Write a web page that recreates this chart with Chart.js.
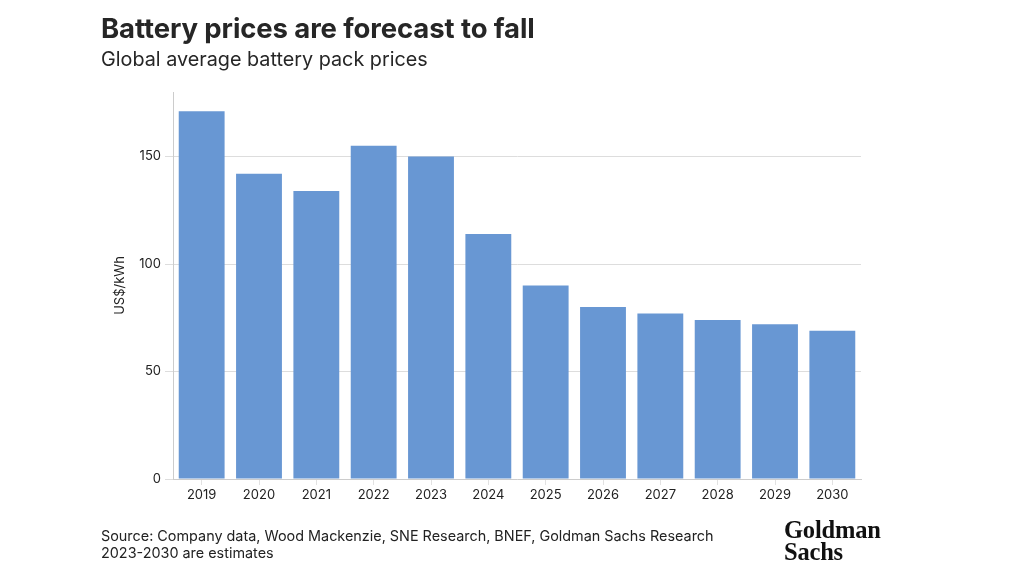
<!DOCTYPE html>
<html><head><meta charset="utf-8">
<script src="https://cdn.jsdelivr.net/npm/chart.js@4/dist/chart.umd.min.js"></script>
<style>
html,body{margin:0;padding:0;background:#fff;width:1014px;height:578px;overflow:hidden;font-family:Inter,"Noto Sans",sans-serif;color:#222;}
#c{position:absolute;left:0;top:0;}
.t{position:absolute;left:101px;top:11px;font-size:27.5px;font-weight:700;letter-spacing:-0.1px;color:#262626;}
.s{position:absolute;left:101px;top:47px;font-size:19.8px;color:#262626;}
.f{position:absolute;left:101px;top:527px;font-size:14.4px;line-height:17px;color:#222;}
.logo{position:absolute;left:784px;top:519px;font-family:"Liberation Serif","DejaVu Serif",serif;font-weight:700;font-size:25px;line-height:22px;color:#111;transform:scaleX(0.98);transform-origin:left top;letter-spacing:-0.2px;}
</style></head><body>
<canvas id="c" width="1014" height="578"></canvas>
<div class="t">Battery prices are forecast to fall</div>
<div class="s">Global average battery pack prices</div>
<div class="f">Source: Company data, Wood Mackenzie, SNE Research, BNEF, Goldman Sachs Research<br>2023-2030 are estimates</div>
<div class="logo">Goldman<br>Sachs</div>
<script>
const years = ["2019","2020","2021","2022","2023","2024","2025","2026","2027","2028","2029","2030"];
const prices = [171, 142, 134, 155, 150, 114, 90, 80, 77, 74, 72, 69];
const yTicks = [0, 50, 100, 150];

new Chart(document.getElementById('c'), {
  type: 'bar',
  data: { labels: years, datasets: [{ data: prices, backgroundColor: '#6897d3', barPercentage: 0.8, categoryPercentage: 1.0 }] },
  options: {
    responsive: false, animation: false,
    layout: { padding: { left: 112, top: 92, right: 153, bottom: 69 } },
    plugins: { legend: { display: false }, tooltip: { enabled: false } },
    scales: {
      x: {
        grid: { display: true, offset: false, drawOnChartArea: false, tickLength: 6, color: '#e2e2e2' },
        border: { color: '#cccccc' },
        ticks: { color: '#222', font: { family: 'Inter', size: 13 }, padding: 2 },
        afterFit: s => { s.height = 30; }
      },
      y: {
        min: 0, max: 180,
        grid: { color: '#dddddd', tickLength: 8 },
        border: { color: '#cccccc' },
        ticks: { color: '#222', font: { family: 'Inter', size: 13 }, padding: 4 },
        afterBuildTicks: s => { s.ticks = yTicks.map(v => ({ value: v })); },
        title: { display: true, text: 'US$/kWh', color: '#222', font: { family: 'Inter', size: 13 }, padding: { top: 0, bottom: 0 } },
        afterFit: s => { s.width = 61; }
      }
    }
  }
});
</script>
</body></html>
